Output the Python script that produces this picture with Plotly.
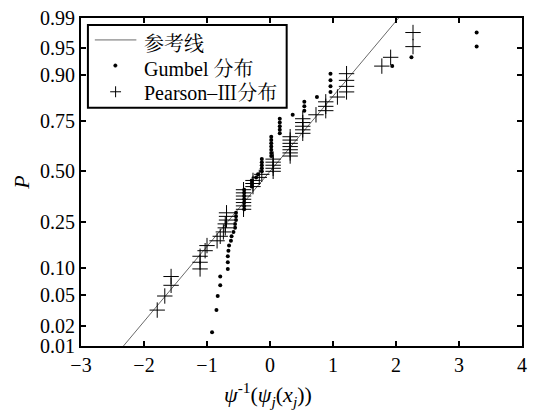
import plotly.graph_objects as go
from statistics import NormalDist

nd = NormalDist()

prob = [0.0161, 0.0323, 0.0484, 0.0645, 0.0806, 0.0968, 0.1129, 0.1290, 0.1452, 0.1613,
        0.1774, 0.1935, 0.2097, 0.2258, 0.2419, 0.2581, 0.2742, 0.2903, 0.3065, 0.3226,
        0.3387, 0.3548, 0.3710, 0.3871, 0.4032, 0.4194, 0.4355, 0.4516, 0.4677, 0.4839,
        0.5000, 0.5161, 0.5323, 0.5484, 0.5645, 0.5806, 0.5968, 0.6129, 0.6290, 0.6452,
        0.6613, 0.6774, 0.6935, 0.7097, 0.7258, 0.7419, 0.7581, 0.7742, 0.7903, 0.8065,
        0.8226, 0.8387, 0.8548, 0.8710, 0.8871, 0.9032, 0.9194, 0.9355, 0.9516, 0.9677]

gumbel_x = [-0.92, -0.85, -0.83, -0.79, -0.79, -0.67, -0.67, -0.67, -0.66, -0.65,
            -0.62, -0.61, -0.58, -0.555, -0.555, -0.54, -0.54, -0.54, -0.41, -0.41,
            -0.41, -0.41, -0.41, -0.41, -0.41, -0.29, -0.29, -0.29, -0.22, -0.19,
            -0.13, -0.13, -0.13, -0.13, -0.13, 0.02, 0.02, 0.02, 0.02, 0.02,
            0.02, 0.02, 0.155, 0.155, 0.155, 0.155, 0.155, 0.36, 0.545, 0.545,
            0.545, 0.745, 0.96, 0.96, 0.96, 0.96, 1.94, 2.245, 3.28, 3.28]

pearson_x = [None, -1.79, -1.67, -1.57, -1.57, -1.11, -1.11, -1.11, -1.03, -1.00,
             -0.84, -0.79, -0.74, -0.71, -0.71, -0.69, -0.69, -0.69, -0.42, -0.42,
             -0.42, -0.42, -0.42, -0.42, -0.42, -0.27, -0.27, -0.27, -0.17, -0.13,
             0.05, 0.05, 0.05, 0.05, 0.05, 0.32, 0.32, 0.32, 0.32, 0.32,
             0.32, 0.32, 0.52, 0.52, 0.52, 0.52, 0.52, 0.73, 0.885, 0.885,
             0.885, 1.07, 1.215, 1.215, 1.215, 1.215, 1.775, 1.915, 2.27, 2.27]

ref_x = [-2.5, 2.2]  # reference line y = x (in normal-quantile space)

tick_probs = [0.01, 0.02, 0.05, 0.10, 0.25, 0.50, 0.75, 0.90, 0.95, 0.9794]
tick_labels = ["0.01", "0.02", "0.05", "0.10", "0.25", "0.50", "0.75", "0.90", "0.95", "0.99"]
x_ticks = [-3, -2, -1, 0, 1, 2, 3, 4]

legend_names = ["参考线", "Gumbel 分布", "Pearson–Ⅲ分布"]


def q(p):
    return nd.inv_cdf(p)


serif = "Liberation Serif, Times New Roman, Noto Serif CJK SC, Noto Sans CJK SC, serif"

# figure geometry (pixels) -> paper coords helpers
W, H = 534, 414
ML, MR, MT, MB = 81, 7, 17, 68
PW, PH = W - ML - MR, H - MT - MB


def xp(px):
    return (px - ML) / PW


def yp(py):
    return (H - MB - py) / PH


fig = go.Figure()
fig.add_trace(go.Scatter(x=ref_x, y=ref_x, mode="lines", name=legend_names[0],
                         line=dict(color="#6a6a6a", width=1)))
fig.add_trace(go.Scatter(x=gumbel_x, y=[q(p) for p in prob], mode="markers",
                         name=legend_names[1],
                         marker=dict(symbol="circle", size=4, color="black")))
px_ = [x for x in pearson_x if x is not None]
py_ = [q(p) for x, p in zip(pearson_x, prob) if x is not None]
fig.add_trace(go.Scatter(x=px_, y=py_, mode="markers", name=legend_names[2],
                         marker=dict(symbol="cross-thin", size=11,
                                     line=dict(color="black", width=1), color="black")))

axis_common = dict(showline=True, linecolor="black", linewidth=2, mirror="ticks",
                   ticks="inside", ticklen=5, tickwidth=2, tickcolor="black",
                   showgrid=False, zeroline=False,
                   tickfont=dict(family=serif, size=20, color="black"))

fig.update_xaxes(range=[-3, 4], tickvals=x_ticks, **axis_common)
fig.update_yaxes(range=[q(0.01), q(tick_probs[-1])],
                 tickvals=[q(p) for p in tick_probs], ticktext=tick_labels,
                 title=dict(text="<i>P</i>", font=dict(family=serif, size=22, color="black"),
                            standoff=4),
                 **axis_common)

fig.add_annotation(xref="paper", yref="paper", x=xp(270), y=yp(395),
                   text="<i>ψ</i><sup>-1</sup>(<i>ψ<sub>j</sub></i>(<i>x<sub>j</sub></i>))",
                   showarrow=False, font=dict(family=serif, size=22, color="black"),
                   xanchor="center", yanchor="middle")

# legend drawn as a boxed key
shapes = [
    dict(type="rect", xref="paper", yref="paper", x0=xp(88), x1=xp(289), y0=yp(107), y1=yp(24),
         line=dict(color="black", width=2), fillcolor="white", layer="above"),
    dict(type="line", xref="paper", yref="paper", x0=xp(95), x1=xp(137), y0=yp(39), y1=yp(39),
         line=dict(color="#6a6a6a", width=1), layer="above"),
    dict(type="circle", xref="paper", yref="paper", x0=xp(114), x1=xp(117.5), y0=yp(66.5),
         y1=yp(63), line=dict(color="black", width=0.5), fillcolor="black", layer="above"),
    dict(type="line", xref="paper", yref="paper", x0=xp(110.5), x1=xp(121.5), y0=yp(91),
         y1=yp(91), line=dict(color="black", width=1), layer="above"),
    dict(type="line", xref="paper", yref="paper", x0=xp(116), x1=xp(116), y0=yp(85.5),
         y1=yp(96.5), line=dict(color="black", width=1), layer="above"),
]
for name, ty in zip(legend_names, [43, 68, 92]):
    fig.add_annotation(xref="paper", yref="paper", x=xp(143), y=yp(ty), text=name,
                       showarrow=False, xanchor="left", yanchor="middle",
                       font=dict(family=serif, size=20, color="black"))

fig.update_layout(
    width=W, height=H,
    margin=dict(l=ML, r=MR, t=MT, b=MB),
    paper_bgcolor="white", plot_bgcolor="white",
    font=dict(family=serif, size=20, color="black"),
    showlegend=False,
    shapes=shapes,
)

fig.write_html("out.html")
